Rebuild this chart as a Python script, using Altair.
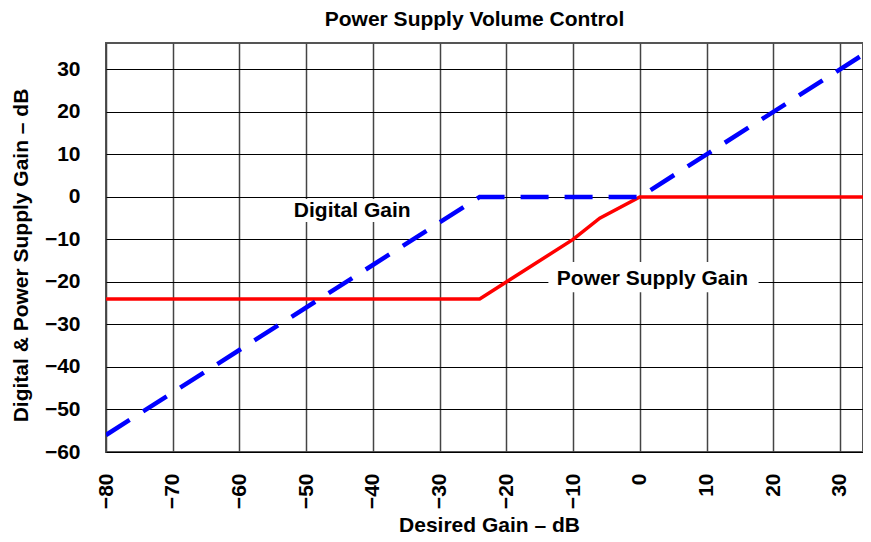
import altair as alt
import pandas as pd

# ---- data ----
digital_x = [-80, -24, 0, 35]
digital_y = [-56, 0, 0, 35]
power_x = [-80, -24, -10, -6, 0, 35]
power_y = [-24, -24, -10, -5, 0, 0]

x_ticks = [-80, -70, -60, -50, -40, -30, -20, -10, 0, 10, 20, 30]
y_ticks = [-60, -50, -40, -30, -20, -10, 0, 10, 20, 30]
x_domain = [-80, 33.45]
y_domain = [-60, 36.2]

label_text = ["Digital Gain", "Power Supply Gain"]
label_x = [-43.1, 1.9]
label_y = [-4.7, -20.75]
box_x1 = [-51.8, -13.7]
box_x2 = [-33.1, 17.8]
box_y1 = [-0.5, -15.3]
box_y2 = [-5.9, -22.4]

FONT = "Liberation Sans"
FS = 21

digital = pd.DataFrame({"x": digital_x, "y": digital_y})
power = pd.DataFrame({"x": power_x, "y": power_y})
labels = pd.DataFrame({"x": label_x, "y": label_y, "t": label_text})
boxes = pd.DataFrame({"x1": box_x1, "x2": box_x2, "y1": box_y1, "y2": box_y2})

xscale = alt.Scale(domain=x_domain, nice=False, zero=False)
yscale = alt.Scale(domain=y_domain, nice=False, zero=False)

xaxis = alt.Axis(
    values=x_ticks, title="Desired Gain – dB", labelAngle=270, labelPadding=21,
    gridColor="#444", gridWidth=1.5, titleX=383, titleY=79,
    titleBaseline="alphabetic", titleAlign="center",
)
yaxis = alt.Axis(
    values=y_ticks, title="Digital & Power Supply Gain – dB", labelPadding=26,
    gridColor="#000", gridWidth=1.2, titleAngle=270, titleX=-79, titleY=212,
    titleBaseline="alphabetic", titleAlign="center",
)

base_x = alt.X("x:Q", scale=xscale, axis=xaxis)
base_y = alt.Y("y:Q", scale=yscale, axis=yaxis)

box_layer = alt.Chart(boxes).mark_rect(color="white").encode(
    x=alt.X("x1:Q", scale=xscale, axis=xaxis),
    x2="x2:Q",
    y=alt.Y("y1:Q", scale=yscale, axis=yaxis),
    y2="y2:Q",
)

power_layer = alt.Chart(power).mark_line(
    color="#ff0000", strokeWidth=3.5, clip=True
).encode(x=base_x, y=base_y)

digital_layer = alt.Chart(digital).mark_line(
    color="#0000ff", strokeWidth=4.5, strokeDash=[28, 16], clip=True
).encode(x=base_x, y=base_y)

text_layer = alt.Chart(labels).mark_text(
    font=FONT, fontSize=FS, fontWeight="bold", color="black",
    baseline="alphabetic", align="center",
).encode(x=base_x, y=base_y, text="t:N")

chart = alt.layer(box_layer, power_layer, digital_layer, text_layer).properties(
    width=757,
    height=409,
    title=alt.TitleParams(
        "Power Supply Volume Control", font=FONT, fontSize=FS, fontWeight="bold",
        color="black", anchor="middle", dx=-10, offset=13,
    ),
    autosize=alt.AutoSizeParams(type="none"),
    padding={"left": 98, "top": 35, "right": 0, "bottom": 82},
).configure_axis(
    labelFont=FONT, labelFontSize=FS, labelFontWeight="bold", labelColor="black",
    titleFont=FONT, titleFontSize=FS, titleFontWeight="bold", titleColor="black",
    domain=False, ticks=False, gridOpacity=1,
).configure_view(
    stroke="#555", strokeWidth=2,
)

chart.save("out.html", embed_options={"renderer": "svg", "actions": False})
